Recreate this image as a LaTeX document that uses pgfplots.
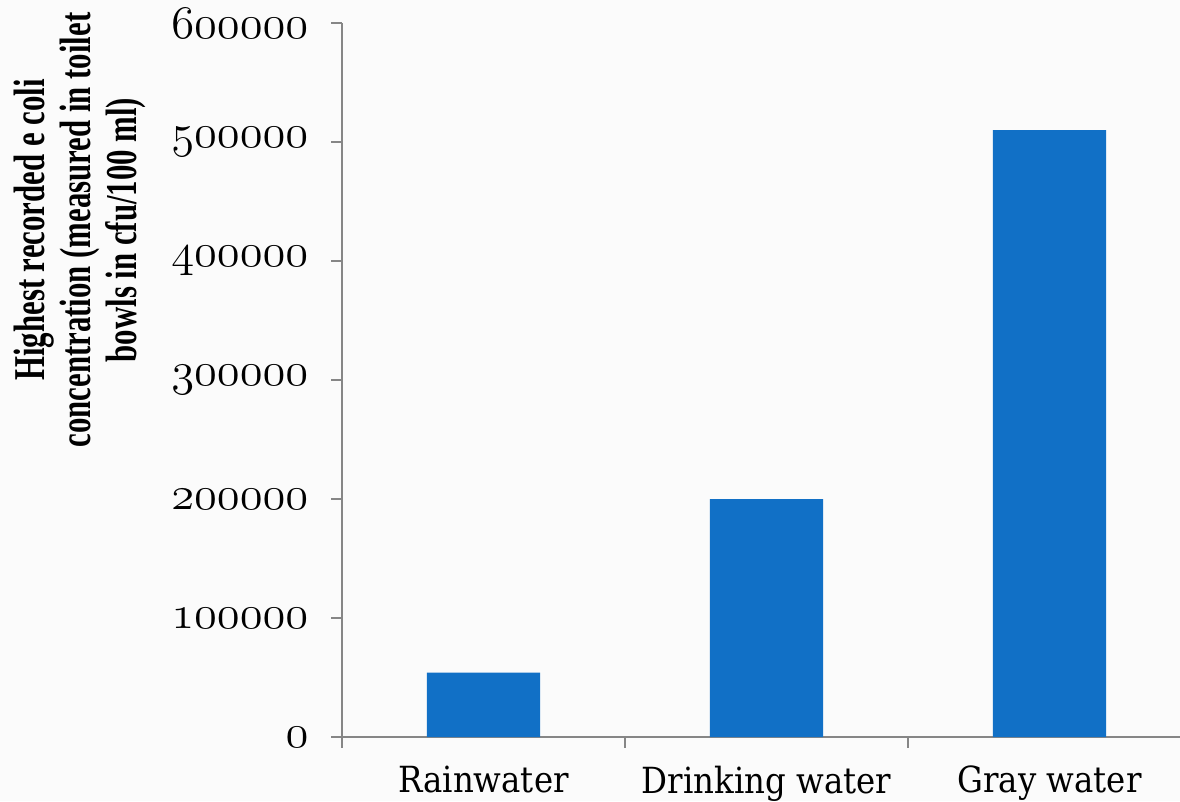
\documentclass[border=0pt]{standalone}
\usepackage{pgfplots}
\pgfplotsset{compat=1.18}
\usepackage{fontspec}
\newfontfamily\catfont[FakeStretch=0.9]{DejaVu Serif}
\newfontfamily\titlefont[FakeStretch=0.7]{Liberation Serif}
% old-style figures from the math italic font, enlarged to 35pt
\newcommand\osf[1]{\scalebox{2.9167}{\fontencoding{OML}\fontfamily{cmm}\fontseries{m}\fontshape{it}\fontsize{12}{14}\selectfont #1}}
\definecolor{barblue}{RGB}{17,112,198}
\definecolor{axisgray}{RGB}{134,134,134}
\definecolor{paper}{RGB}{251,251,251}
\begin{document}
\begin{tikzpicture}[x=1pt,y=1pt]
\clip (-256.5,-48) rectangle (628.5,552.75);
\fill[paper] (-256.5,-48) rectangle (628.5,552.75);
\begin{axis}[
  at={(0,0)}, anchor=south west,
  scale only axis, width=636.75pt, height=535.5pt,
  xmin=-0.5, xmax=2.5, ymin=0, ymax=600000,
  axis lines=left,
  axis line style={-, draw=axisgray, line width=1.3pt},
  tick align=outside,
  tick style={draw=axisgray, line width=1.3pt},
  major tick length=8pt,
  xtick={-0.5,0.5,1.5,2.5},
  xticklabels={},
  extra x ticks={0,1,2},
  extra x tick labels={Rainwater,Drinking water,Gray water},
  extra x tick style={major tick length=0pt,
    xticklabel style={anchor=north, inner sep=0pt, yshift=-21.5pt,
      font=\catfont\fontsize{27}{31}\selectfont}},
  ytick={0,100000,200000,300000,400000,500000,600000},
  yticklabels={\osf{0},\osf{100000},\osf{200000},\osf{300000},
    \osf{400000},\osf{500000},\osf{600000}},
  yticklabel style={anchor=east, inner sep=0pt, xshift=-17pt},
  scaled y ticks=false,
  ybar, bar width=0.4,
]
\addplot[fill=barblue, draw=none] coordinates {
  (0,54000) (1,200000) (2,510000)
};
\end{axis}
\node[rotate=90, align=center,
  font=\titlefont\bfseries\fontsize{33}{34.5}\selectfont]
  at (-196.5,380.25)
  {Highest recorded e coli\\concentration (measured in toilet\\bowls in cfu/100 ml)};
\end{tikzpicture}
\end{document}
